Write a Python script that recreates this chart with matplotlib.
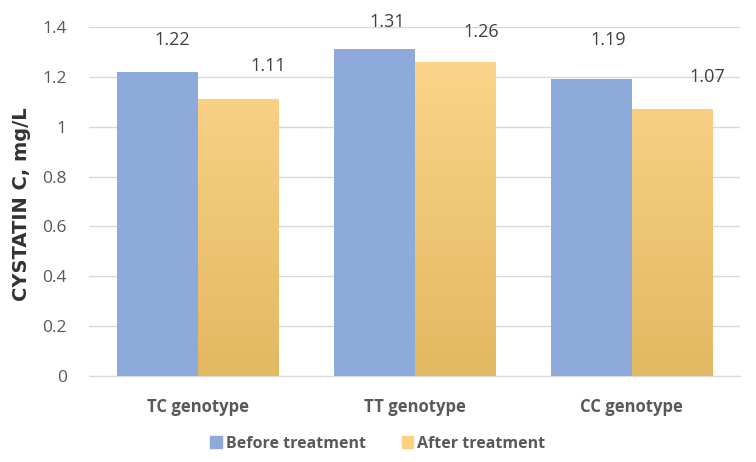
import numpy as np
import matplotlib
matplotlib.use("Agg")
import matplotlib.pyplot as plt
from matplotlib.colors import LinearSegmentedColormap

categories = ["TC genotype", "TT genotype", "CC genotype"]
before_values = [1.22, 1.31, 1.19]
after_values = [1.11, 1.26, 1.07]
series_names = ["Before treatment", "After treatment"]
y_ticks = [0, 0.2, 0.4, 0.6, 0.8, 1, 1.2, 1.4]
y_tick_labels = ["0", "0.2", "0.4", "0.6", "0.8", "1", "1.2", "1.4"]

# label nudges in pixels (the data labels sit off-centre, as in the original)
before_label_offsets = [(15, 32), (13, 27), (17, 39)]
after_label_offsets = [(30, 33), (26, 30), (35, 32)]

BLUE = "#8eaadb"
GOLD_TOP = "#ffd78e"
GOLD_BOTTOM = "#e2b862"
TEXT = "#595959"

plt.rcParams["font.family"] = ["Open Sans", "DejaVu Sans"]

fig = plt.figure(figsize=(7.56, 4.62), dpi=100)
ax = fig.add_axes([0.1177, 0.186, 0.979 - 0.1177, 0.9416 - 0.186])

index = np.arange(len(categories))
bar_width = 0.373

blue_bars = ax.bar(index - bar_width / 2, before_values, bar_width, color=BLUE,
                   zorder=3, label=series_names[0])
gold_bars = ax.bar(index + bar_width / 2, after_values, bar_width, color=GOLD_TOP,
                   zorder=3, label=series_names[1])

# vertical gradient on the after-treatment bars
cmap = LinearSegmentedColormap.from_list("gold", [GOLD_BOTTOM, GOLD_TOP])
grad = np.linspace(0, 1, 256).reshape(-1, 1)
for bar in gold_bars:
    x0, w = bar.get_x(), bar.get_width()
    img = ax.imshow(grad, extent=[x0, x0 + w, 0, 1.4], origin="lower", cmap=cmap,
                    aspect="auto", zorder=3.5)
    img.set_clip_path(bar)

for bars, vals, offsets in ((blue_bars, before_values, before_label_offsets),
                            (gold_bars, after_values, after_label_offsets)):
    for bar, v, off in zip(bars, vals, offsets):
        ax.annotate("{:g}".format(v), (bar.get_x() + bar.get_width() / 2, v),
                    xytext=off, textcoords="offset pixels",
                    ha="center", va="center", fontsize=13, color="#404040")

ax.set_xlim(-0.5, 2.5)
ax.set_ylim(0, 1.4)
ax.set_yticks(y_ticks)
ax.set_yticklabels(y_tick_labels, fontsize=12.5, color=TEXT)
ax.set_xticks(index)
ax.set_xticklabels(categories, fontsize=12, fontweight="bold", color=TEXT)
ax.tick_params(axis="both", length=0)
ax.tick_params(axis="x", pad=16)
ax.tick_params(axis="y", pad=16)
ax.grid(axis="y", color="#d9d9d9", linewidth=1, zorder=0)
for side in ("left", "right", "top"):
    ax.spines[side].set_visible(False)
ax.spines["bottom"].set_color("#d9d9d9")

fig.text(0.029, 0.558, "CYSTATIN C, mg/L", rotation=90, ha="center", va="center",
         fontsize=14, fontweight="bold", color="#333333", family="DejaVu Sans")

handles = [plt.Rectangle((0, 0), 1, 1, color=BLUE),
           plt.Rectangle((0, 0), 1, 1, color="#fcd27f")]
fig.legend(handles, series_names, loc="center", bbox_to_anchor=(0.5, 0.04), ncol=2,
           frameon=False, handlelength=0.7, handleheight=0.7, handletextpad=0.3,
           columnspacing=2.2, prop={"size": 11.5, "weight": "bold"}, labelcolor=TEXT)

fig.savefig("out.png", dpi=100)
